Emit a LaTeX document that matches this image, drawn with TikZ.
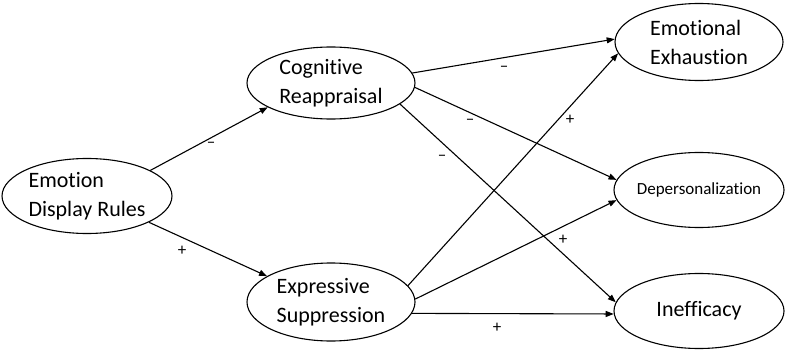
\documentclass[tikz,border=0pt]{standalone}
\usepackage{fontspec}
\setmainfont{Carlito}[Ligatures={NoCommon,NoRequired,NoContextual}]
\usetikzlibrary{shapes.geometric,arrows.meta}
\begin{document}
\begin{tikzpicture}[x=1pt,y=-1pt,
  var/.style={ellipse,draw,line width=1.1pt,inner sep=0pt,inner ysep=-3pt,minimum width=170pt,minimum height=75pt,align=left,font=\fontsize{22}{29}\selectfont},
  conn/.style={line width=1.1pt,-{Triangle[length=8pt,width=6pt]}},
  sign/.style={inner sep=0pt,font=\fontsize{17}{19}\selectfont}]
\useasboundingbox (0,0) rectangle (785,353);
\node[var] (edr) at (87,196) {Emotion\\Display Rules};
\node[var,minimum width=168pt,minimum height=72pt] (cr) at (331,83) {Cognitive\\Reappraisal};
\node[var,minimum width=168pt,minimum height=78pt] (es) at (331,302) {Expressive\\Suppression};
\node[var,minimum width=168pt,minimum height=77pt] (ee) at (699,42) {Emotional\\Exhaustion};
\node[var,inner xsep=-6pt,font=\fontsize{17}{20}\selectfont] (dp) at (699,190) {Depersonalization};
\node[var] (in) at (699,311) {Inefficacy};
\draw[conn] (edr.22.5) -- (cr.201);
\draw[conn] (edr.-23) -- (es.158);
\draw[conn] (cr.7.5) -- (ee.178.6);
\draw[conn] (cr.-3.4) -- (dp.173);
\draw[conn] (cr.-17) -- (in.174);
\draw[conn] (es.12) -- (ee.188.8);
\draw[conn] (es.2.7) -- (dp.187);
\draw[conn] (es.-8.6) -- (in.182.7);
\node[sign] (s1) at (211,145) {–};
\node[sign] (s2) at (182,251) {+};
\node[sign] (s3) at (504,69) {–};
\node[sign] (s4) at (470,122) {–};
\node[sign] (s5) at (442,158) {–};
\node[sign] (s6) at (570,120) {+};
\node[sign] (s7) at (563,240) {+};
\node[sign] (s8) at (497,328) {+};
\end{tikzpicture}
\end{document}
